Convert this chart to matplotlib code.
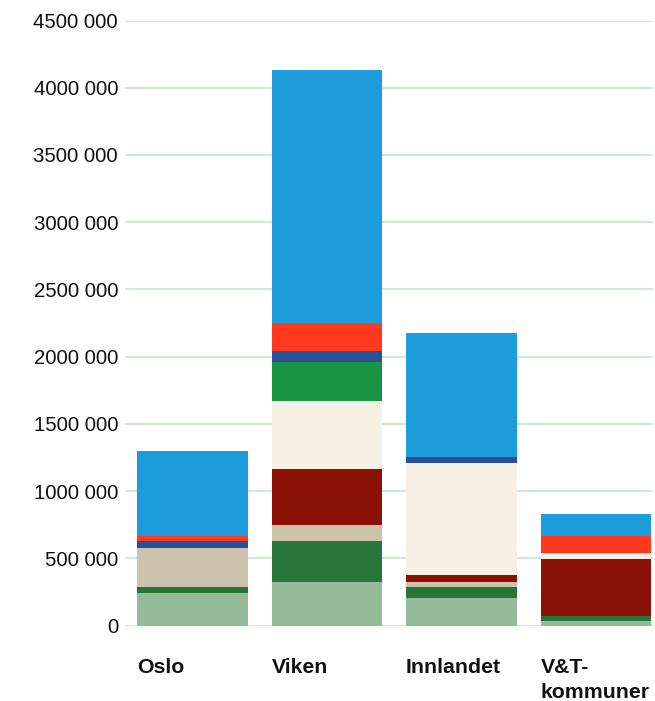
import matplotlib
matplotlib.use("Agg")
import matplotlib.pyplot as plt
import numpy as np
from matplotlib.ticker import FuncFormatter

plt.rcParams['font.family'] = ['Liberation Sans', 'DejaVu Sans']

regions = ["Oslo", "Viken", "Innlandet", "V&T-\nkommuner"]

# Stacked components, bottom to top (values per region)
light_green = [245000, 327000, 201000, 37000]
dark_green = [45000, 298000, 89000, 37000]
tan = [290000, 119000, 37000, 0]
dark_red = [0, 417000, 45000, 424000]
cream = [0, 506000, 833000, 38000]
green = [0, 290000, 0, 0]
dark_blue = [45000, 82000, 45000, 0]
red = [37000, 208000, 0, 126000]
blue = [633000, 1882000, 923000, 171000]

series = [light_green, dark_green, tan, dark_red, cream, green, dark_blue, red, blue]
colors = ["#94ba98", "#277538", "#cdc3ad", "#8b1006", "#f6efe4",
          "#1a9444", "#2a5197", "#ff3a1e", "#1e9ddc"]

yticks = [0, 500000, 1000000, 1500000, 2000000, 2500000,
          3000000, 3500000, 4000000, 4500000]

W, H = 655, 701
fig = plt.figure(figsize=(W / 100, H / 100), dpi=100)
left, right, top, bottom = 125, 653, 20.5, 625.5
ax = fig.add_axes([left / W, 1 - bottom / H, (right - left) / W, (bottom - top) / H])

x = np.arange(len(regions))
width = 0.825
base = np.zeros(len(regions))
for vals, c in zip(series, colors):
    v = np.array(vals, dtype=float)
    ax.bar(x, v, width=width, bottom=base, color=c, linewidth=0, zorder=3)
    base += v

ax.set_xlim(-0.502, 3.424)
ax.set_ylim(0, 4500000)
ax.set_yticks(yticks)


def fmt(v, pos):
    v = int(round(v))
    if v == 0:
        return "0"
    s = f"{v:,}".replace(",", " ")
    # only the last thousands group is separated by a space
    parts = s.split(" ")
    return "".join(parts[:-1]) + " " + parts[-1]


ax.yaxis.set_major_formatter(FuncFormatter(fmt))
ax.grid(axis='y', color="#d2e8d9", linewidth=1.6, zorder=0)
ax.tick_params(axis='y', length=0, pad=5, labelsize=14.7, labelcolor="#111111")

ax.set_xticks(x - width / 2)
ax.set_xticklabels(regions, fontweight='bold', fontsize=15.3, ha='left', va='top',
                   linespacing=1.4)
ax.tick_params(axis='x', length=0, pad=23.5, labelcolor="#111111")

for s in ax.spines.values():
    s.set_visible(False)

fig.savefig("out.png", dpi=100)
